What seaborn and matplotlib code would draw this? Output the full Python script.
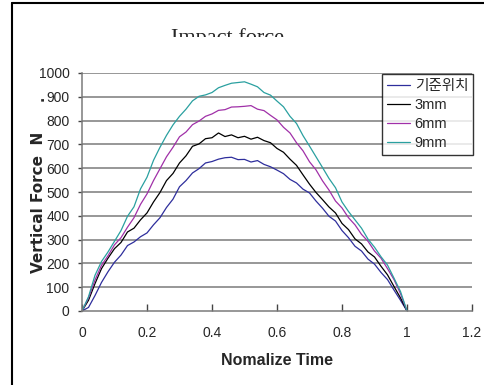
import numpy as np
import pandas as pd
import matplotlib
matplotlib.use("Agg")
import matplotlib.pyplot as plt
from matplotlib.patches import Rectangle
from matplotlib.lines import Line2D
import seaborn as sns

time = [0.00, 0.02, 0.04, 0.06, 0.08, 0.10, 0.12, 0.14, 0.16, 0.18,
        0.20, 0.22, 0.24, 0.26, 0.28, 0.30, 0.32, 0.34, 0.36, 0.38,
        0.40, 0.42, 0.44, 0.46, 0.48, 0.50, 0.52, 0.54, 0.56, 0.58,
        0.60, 0.62, 0.64, 0.66, 0.68, 0.70, 0.72, 0.74, 0.76, 0.78,
        0.80, 0.82, 0.84, 0.86, 0.88, 0.90, 0.92, 0.94, 0.96, 0.98, 1.00]

base = [0, 15, 65, 120, 165, 205, 235, 275, 290, 312,
        328, 362, 392, 435, 470, 522, 548, 580, 598, 622,
        628, 638, 644, 646, 636, 637, 626, 632, 616, 606,
        592, 577, 553, 538, 512, 496, 462, 432, 398, 378,
        338, 308, 272, 252, 218, 197, 162, 132, 88, 45, 0]

mm3 = [0, 45, 115, 178, 222, 262, 288, 332, 348, 383,
       412, 458, 498, 548, 578, 622, 652, 692, 702, 724,
       728, 748, 733, 740, 728, 734, 722, 730, 716, 707,
       683, 667, 638, 612, 572, 533, 498, 468, 437, 412,
       368, 342, 303, 282, 248, 227, 188, 152, 103, 55, 0]

mm6 = [0, 55, 130, 192, 232, 278, 308, 352, 392, 448,
       492, 548, 598, 648, 688, 732, 752, 783, 798, 818,
       828, 843, 846, 857, 858, 860, 863, 848, 842, 822,
       803, 772, 748, 707, 673, 627, 593, 547, 508, 462,
       433, 392, 362, 322, 293, 252, 222, 178, 132, 73, 0]

mm9 = [0, 60, 150, 208, 248, 293, 338, 398, 438, 513,
       562, 633, 688, 738, 782, 818, 848, 883, 902, 908,
       918, 938, 948, 957, 960, 963, 953, 942, 918, 907,
       882, 858, 818, 788, 737, 693, 648, 603, 557, 518,
       458, 418, 383, 348, 302, 268, 228, 193, 138, 82, 0]

series_names = ["기준위치", "3mm", "6mm", "9mm"]
colors = ["#2e2e9c", "#000000", "#a030a8", "#2aa0a0"]
x_ticks = [0, 0.2, 0.4, 0.6, 0.8, 1, 1.2]
x_tick_labels = ["0", "0.2", "0.4", "0.6", "0.8", "1", "1.2"]
y_ticks = list(range(0, 1001, 100))

frames = []
for name, vals in zip(series_names, [base, mm3, mm6, mm9]):
    frames.append(pd.DataFrame({"time": time, "force": vals, "series": name}))
df = pd.concat(frames, ignore_index=True)

sns.set_style("white")
plt.rcParams["font.family"] = ["Liberation Sans", "Noto Sans CJK KR", "DejaVu Sans"]

fig = plt.figure(figsize=(4.85, 3.85), dpi=100)
ax = fig.add_axes([82/485, 1-311/385, 390/485, 238/385])

sns.lineplot(data=df, x="time", y="force", hue="series", hue_order=series_names,
             palette=dict(zip(series_names, colors)), linewidth=0.9, ax=ax,
             estimator=None, sort=False)

ax.set_xlim(0, 1.2)
ax.set_ylim(0, 1000)
ax.set_xticks(x_ticks)
ax.set_xticklabels(x_tick_labels)
ax.set_yticks(y_ticks)
for y in y_ticks[1:]:
    ax.axhline(y, color="#7a7a7a", lw=1.1, zorder=0)

for s in ["top", "right"]:
    ax.spines[s].set_visible(False)
for s in ["left", "bottom"]:
    ax.spines[s].set_color("#7a7a7a")
    ax.spines[s].set_linewidth(1.1)

ax.tick_params(axis="x", direction="in", length=5, width=1, color="#444444",
               labelsize=10, pad=11, bottom=True)
ax.tick_params(axis="y", direction="out", length=3, width=1, color="#444444",
               labelsize=10, pad=6, left=True)

ax.set_xlabel("Nomalize Time", fontsize=11.5, fontweight="bold", labelpad=9)
ax.set_ylabel("Vertical Force  N", fontsize=11, fontweight="bold",
              family=["DejaVu Sans"])
ax.yaxis.set_label_coords(-0.093, 0.458)
fig.text(40/485, 1-98/385, ".", fontsize=10, fontweight="bold", rotation=90,
         ha="center", va="center", family=["DejaVu Sans"])

leg = ax.legend(loc="upper left", bbox_to_anchor=(0.769, 0.996), borderaxespad=0,
                frameon=True, fancybox=False, handlelength=1.6, handletextpad=0.3,
                borderpad=0.35, labelspacing=0.35, fontsize=10.5)
leg.get_frame().set_edgecolor("black")
leg.get_frame().set_linewidth(1)
leg.set_title(None)

fig.text(228/485, 1-43/385, "Impact force", family="Liberation Serif", fontsize=16,
         ha="center", va="baseline")
fig.add_artist(Rectangle((140/485, 1-70/385), 180/485, 33/385, transform=fig.transFigure,
                         facecolor="white", edgecolor="none", zorder=10))

fig.add_artist(Line2D([12/485, 12/485], [0, 1-3/385], transform=fig.transFigure,
                      color="black", lw=1.5))
fig.add_artist(Line2D([12/485, 1], [1-3/385, 1-3/385], transform=fig.transFigure,
                      color="black", lw=1.5))

fig.savefig("out.png", dpi=100)
